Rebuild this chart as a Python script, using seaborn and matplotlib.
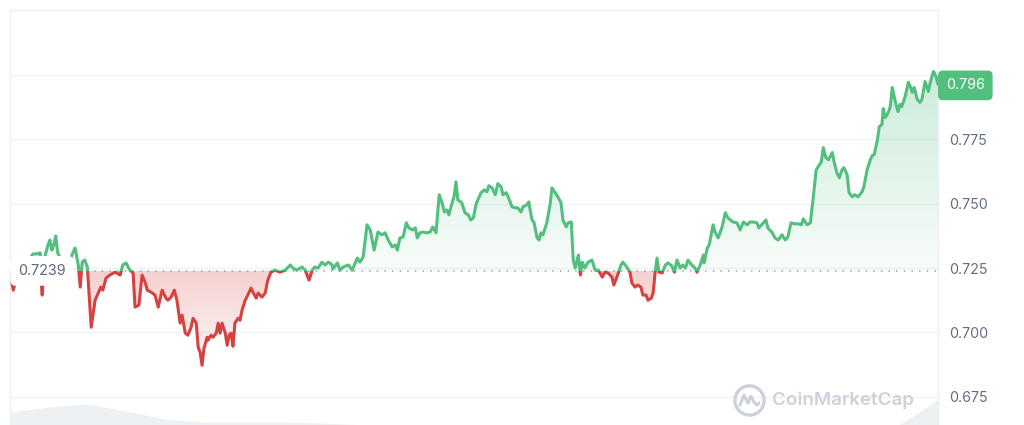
import numpy as np
import pandas as pd
import matplotlib
matplotlib.use("Agg")
import matplotlib.pyplot as plt
import matplotlib.colors as mcolors
import seaborn as sns
from matplotlib.path import Path
from matplotlib.patches import Rectangle

# minutes since the start of the day and the price at that moment
minutes = [0, 3, 5, 9, 16, 23, 31, 36, 42, 47, 48, 50, 51, 54, 59, 62, 65, 68, 71, 74,
           81, 87, 93, 98, 101, 106, 109, 112, 116, 120, 126, 132, 137, 141, 144, 149, 155, 163, 171, 175,
           180, 186, 191, 194, 200, 205, 210, 213, 219, 225, 230, 236, 242, 245, 250, 255, 259, 264, 267, 272,
           276, 281, 284, 289, 292, 295, 298, 301, 306, 307, 312, 315, 320, 323, 326, 329, 334, 337, 340, 343,
           346, 349, 354, 357, 360, 365, 369, 374, 377, 382, 385, 391, 396, 400, 405, 411, 419, 427, 435, 439,
           445, 453, 458, 464, 469, 473, 478, 484, 489, 494, 500, 501, 508, 512, 517, 525, 531, 539, 543, 548,
           554, 559, 565, 571, 577, 582, 587, 593, 598, 601, 605, 610, 615, 619, 625, 629, 632, 636, 641, 647,
           652, 656, 661, 666, 670, 674, 678, 681, 686, 689, 692, 695, 701, 706, 711, 715, 719, 723, 726, 731,
           736, 740, 743, 748, 753, 757, 762, 765, 770, 773, 779, 784, 788, 793, 796, 802, 805, 810, 813, 818,
           821, 824, 827, 833, 838, 841, 846, 850, 855, 858, 863, 866, 871, 874, 877, 882, 885, 888, 892, 897,
           903, 908, 913, 919, 923, 928, 934, 937, 944, 948, 951, 957, 962, 965, 970, 974, 979, 982, 987, 990,
           995, 998, 1001, 1004, 1007, 1012, 1017, 1021, 1027, 1031, 1035, 1040, 1044, 1048, 1052, 1058, 1063, 1066, 1071, 1076,
           1077, 1082, 1085, 1091, 1094, 1099, 1105, 1110, 1114, 1122, 1128, 1133, 1138, 1144, 1148, 1153, 1159, 1162, 1169, 1173,
           1176, 1183, 1187, 1192, 1198, 1203, 1207, 1212, 1217, 1223, 1228, 1231, 1237, 1242, 1246, 1251, 1254, 1259, 1262, 1266,
           1270, 1276, 1279, 1283, 1287, 1291, 1294, 1299, 1302, 1307, 1311, 1316, 1322, 1325, 1330, 1335, 1338, 1341, 1346, 1349,
           1353, 1355, 1358, 1363, 1366, 1369, 1374, 1378, 1381, 1384, 1389, 1394, 1397, 1400, 1403, 1408, 1412, 1415, 1420, 1425,
           1428, 1433, 1437, 1440]
prices = [0.7239, 0.7195, 0.7164, 0.7203, 0.7234, 0.7262, 0.7289, 0.7305, 0.7305, 0.7309,
          0.7203, 0.7145, 0.7184, 0.7293, 0.7340, 0.7359, 0.7320, 0.7340, 0.7375, 0.7309,
          0.7273, 0.7273, 0.7281, 0.7312, 0.7328, 0.7262, 0.7176, 0.7273, 0.7281, 0.7254,
          0.7020, 0.7125, 0.7153, 0.7176, 0.7164, 0.7211, 0.7223, 0.7234, 0.7223, 0.7262,
          0.7270, 0.7242, 0.7231, 0.7098, 0.7106, 0.7223, 0.7192, 0.7164, 0.7156, 0.7145,
          0.7098, 0.7164, 0.7133, 0.7125, 0.7137, 0.7164, 0.7125, 0.7036, 0.7067, 0.6997,
          0.6989, 0.7020, 0.7055, 0.7036, 0.6942, 0.6922, 0.6872, 0.6938, 0.6981, 0.6969,
          0.6989, 0.6981, 0.6997, 0.7036, 0.6997, 0.7036, 0.6997, 0.6950, 0.6989, 0.6997,
          0.6946, 0.7036, 0.7055, 0.7047, 0.7086, 0.7125, 0.7145, 0.7172, 0.7156, 0.7133,
          0.7153, 0.7137, 0.7153, 0.7203, 0.7234, 0.7242, 0.7234, 0.7242, 0.7262, 0.7250,
          0.7242, 0.7254, 0.7242, 0.7203, 0.7242, 0.7254, 0.7250, 0.7273, 0.7262, 0.7273,
          0.7262, 0.7246, 0.7270, 0.7242, 0.7254, 0.7262, 0.7242, 0.7289, 0.7273, 0.7293,
          0.7418, 0.7398, 0.7320, 0.7390, 0.7379, 0.7387, 0.7359, 0.7332, 0.7340, 0.7320,
          0.7367, 0.7371, 0.7426, 0.7406, 0.7398, 0.7406, 0.7367, 0.7387, 0.7390, 0.7387,
          0.7390, 0.7410, 0.7387, 0.7535, 0.7507, 0.7468, 0.7476, 0.7457, 0.7504, 0.7527,
          0.7585, 0.7515, 0.7504, 0.7465, 0.7457, 0.7437, 0.7445, 0.7496, 0.7515, 0.7543,
          0.7554, 0.7546, 0.7570, 0.7562, 0.7535, 0.7578, 0.7566, 0.7535, 0.7543, 0.7527,
          0.7488, 0.7484, 0.7484, 0.7468, 0.7488, 0.7496, 0.7507, 0.7437, 0.7429, 0.7367,
          0.7359, 0.7387, 0.7379, 0.7426, 0.7496, 0.7562, 0.7543, 0.7527, 0.7504, 0.7437,
          0.7410, 0.7426, 0.7429, 0.7281, 0.7250, 0.7301, 0.7223, 0.7273, 0.7250, 0.7273,
          0.7281, 0.7242, 0.7242, 0.7215, 0.7234, 0.7231, 0.7215, 0.7184, 0.7231, 0.7262,
          0.7273, 0.7254, 0.7234, 0.7192, 0.7176, 0.7184, 0.7176, 0.7145, 0.7145, 0.7125,
          0.7133, 0.7153, 0.7231, 0.7289, 0.7234, 0.7231, 0.7262, 0.7270, 0.7258, 0.7234,
          0.7281, 0.7250, 0.7262, 0.7250, 0.7281, 0.7262, 0.7250, 0.7234, 0.7262, 0.7301,
          0.7270, 0.7328, 0.7340, 0.7418, 0.7390, 0.7367, 0.7410, 0.7465, 0.7445, 0.7429,
          0.7426, 0.7398, 0.7429, 0.7418, 0.7429, 0.7429, 0.7426, 0.7406, 0.7426, 0.7437,
          0.7406, 0.7387, 0.7367, 0.7359, 0.7379, 0.7359, 0.7371, 0.7426, 0.7422, 0.7422,
          0.7418, 0.7441, 0.7418, 0.7426, 0.7515, 0.7632, 0.7644, 0.7663, 0.7718, 0.7679,
          0.7671, 0.7699, 0.7660, 0.7621, 0.7601, 0.7632, 0.7640, 0.7613, 0.7543, 0.7527,
          0.7535, 0.7527, 0.7546, 0.7566, 0.7632, 0.7671, 0.7687, 0.7691, 0.7749, 0.7800,
          0.7808, 0.7870, 0.7835, 0.7855, 0.7878, 0.7952, 0.7894, 0.7858, 0.7886, 0.7878,
          0.7917, 0.7972, 0.7956, 0.7933, 0.7952, 0.7905, 0.7894, 0.7905, 0.7975, 0.7936,
          0.7972, 0.8014, 0.7995, 0.7964]

base_price = 0.7239
last_price = 0.796

vol_hours = list(range(25))
volume = [13, 18, 21, 14, 6, 3, 3, 3, 2, 0.5, 0.5, 0.5, 0.5, 0.5, 0.5, 0.5, 0.5, 0.5, 0.5, 0.5,
          0.5, 0.5, 0.5, 0.5, 25]

ytick_values = [0.675, 0.700, 0.725, 0.750, 0.775, 0.800]
ytick_labels = ["0.675", "0.700", "0.725", "0.750", "0.775", ""]

green = "#52bf7e"
red = "#d6423f"
grey_text = "#616e85"

sns.set_theme(style="white")
plt.rcParams["font.family"] = ["Inter", "DejaVu Sans"]

df = pd.DataFrame({"minute": minutes, "price": prices})
p = np.array(prices)

fig = plt.figure(figsize=(10.24, 4.25), dpi=100)
ax = fig.add_axes([10 / 1024, 0, 928 / 1024, 415 / 425])

# volume area underneath
ax_vol = ax.twinx()
ax_vol.set_zorder(0)
ax.set_zorder(1)
ax.patch.set_visible(False)
ax_vol.fill_between(np.array(vol_hours) * 60, volume, color="#eef1f4", lw=0)
ax_vol.set_ylim(0, 415)
ax_vol.set_yticks([])
for s in ax_vol.spines.values():
    s.set_visible(False)


def gradient_fill(where, top, bottom, color, a_top, a_bottom):
    coll = ax.fill_between(df.minute, df.price, base_price, where=where, interpolate=True,
                           facecolor="none", edgecolor="none")
    path = Path.make_compound_path(*coll.get_paths())
    rgba = np.zeros((256, 1, 4))
    rgba[..., :3] = mcolors.to_rgb(color)
    rgba[..., 3] = np.linspace(a_bottom, a_top, 256)[:, None]
    im = ax.imshow(rgba, extent=[0, 1440, bottom, top], origin="lower", aspect="auto", zorder=1)
    im.set_clip_path(path, transform=ax.transData)


gradient_fill(p >= base_price, p.max(), base_price, green, 0.30, 0.04)
gradient_fill(p <= base_price, base_price, p.min(), red, 0.25, 0.04)

# price line, green above the open price and red below
sns.lineplot(data=df, x="minute", y="price", ax=ax, color=green, lw=2.2, zorder=3)
ax.lines[-1].set_clip_path(Rectangle((0, base_price), 1440, 1, transform=ax.transData))
sns.lineplot(data=df, x="minute", y="price", ax=ax, color=red, lw=2.2, zorder=3)
ax.lines[-1].set_clip_path(Rectangle((0, 0.5), 1440, base_price - 0.5, transform=ax.transData))

ax.axhline(base_price, color="#9ca4b1", lw=1.1, ls=(0, (1, 4)), zorder=2)

ax.set_xlim(0, 1440)
ax.set_ylim(0.664, 0.8253)
ax.set_xlabel("")
ax.set_ylabel("")
ax.set_xticks([])
ax.yaxis.tick_right()
ax.set_yticks(ytick_values)
ax.set_yticklabels(ytick_labels)
ax.tick_params(axis="y", length=0, pad=8, labelsize=10.3, labelcolor=grey_text)
ax.grid(axis="y", color="#eff2f5", lw=1)
ax.set_axisbelow(True)
for name, s in ax.spines.items():
    s.set_color("#eceff3")
    s.set_linewidth(1)
ax.spines["bottom"].set_visible(False)

# open price label on the left
ax.text(0.0086, base_price, "0.7239", transform=ax.get_yaxis_transform(), ha="left", va="center",
        fontsize=10.3, color="#58667e", zorder=5,
        bbox=dict(boxstyle="round,pad=0.55,rounding_size=0.4", fc="white", ec="none"))

# last price label on the right
ax.text(1.0085, last_price, "0.796", transform=ax.get_yaxis_transform(), ha="left", va="center",
        fontsize=10.3, color="white", zorder=5, clip_on=False,
        bbox=dict(boxstyle="round,pad=0.55,rounding_size=0.35", fc=green, ec="none"))

# watermark
wm = "#cdd2da"
ax.text(0.821, 0.060, "CoinMarketCap", transform=ax.transAxes, ha="left", va="center",
        fontsize=13.5, fontweight="semibold", color=wm, zorder=4)
cx, cy = 0.7963, 0.060
ax.plot([cx], [cy], transform=ax.transAxes, marker="o", ms=21, mfc="none", mec=wm, mew=2.4, zorder=4)
zx = np.array([-9, -5, -1, 2, 5, 8, 10]) / 928
zy = np.array([-5, 5, -3, 4, -2, -5, -3]) / 415
ax.plot(cx + zx, cy + zy, transform=ax.transAxes, color=wm, lw=2.2, zorder=4,
        solid_joinstyle="round", solid_capstyle="round")

fig.savefig("out.png", dpi=100, facecolor="white")
